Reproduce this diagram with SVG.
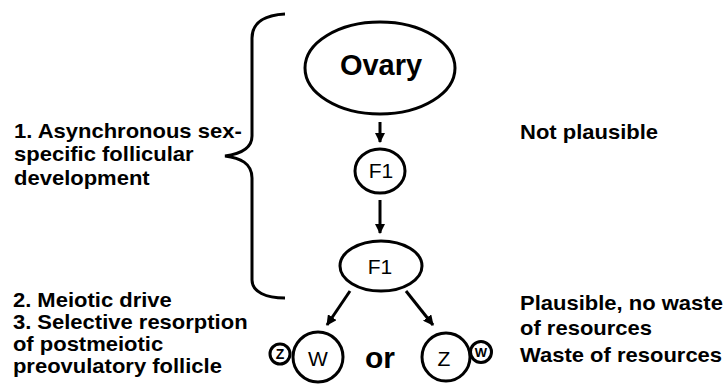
<svg xmlns="http://www.w3.org/2000/svg" width="728" height="388" viewBox="0 0 728 388">
<style>
.t{font-family:"Liberation Sans",Arial,sans-serif;font-weight:bold;font-size:20px;fill:#000}
.n{fill:#fff;stroke:#000;stroke-width:3}
.c{stroke:#000;stroke-width:3;fill:none}
.lbl{font-family:"Liberation Sans",Arial,sans-serif;fill:#000;text-anchor:middle}
</style>
<defs>
<marker id="ah" viewBox="0 0 10 10" refX="9" refY="5" markerWidth="3.5" markerHeight="3.5" orient="auto" markerUnits="strokeWidth">
<path d="M0,0 L10,5 L0,10 Z" fill="#000"/>
</marker>
</defs>
<rect width="728" height="388" fill="#fff"/>
<g id="brace">
<path class="c" stroke-width="3.5" d="M285,14 C266,15 252,22 252,38 L252,136 C252,149 240,154 225,156 C240,158 252,163 252,178 L252,280 C252,292 266,298 285,298"/>
</g>
<g id="connectors">
<line class="c" x1="380" y1="122" x2="380" y2="142" marker-end="url(#ah)"/>
<line class="c" x1="380" y1="200" x2="380" y2="233" marker-end="url(#ah)"/>
<line class="c" x1="350" y1="291" x2="327" y2="325" marker-end="url(#ah)"/>
<line class="c" x1="406" y1="291" x2="433" y2="325" marker-end="url(#ah)"/>
</g>
<g id="ovary">
<ellipse class="n" cx="380" cy="68" rx="75" ry="46"/>
<text class="lbl" x="381" y="75" font-size="29" font-weight="bold">Ovary</text>
</g>
<g id="f1a">
<ellipse class="n" cx="380" cy="171" rx="25" ry="22"/>
<text class="lbl" x="381" y="178" font-size="21">F1</text>
</g>
<g id="f1b">
<ellipse class="n" cx="381" cy="266" rx="41" ry="25"/>
<text class="lbl" x="380" y="274" font-size="21">F1</text>
</g>
<g id="w">
<circle class="n" cx="318" cy="357" r="25"/>
<text class="lbl" x="318" y="366" font-size="21">W</text>
<circle class="n" cx="280" cy="354" r="10" stroke-width="2.5"/>
<text class="lbl" x="280" y="359" font-size="14" font-weight="bold">Z</text>
</g>
<g id="or">
<text class="lbl" x="380" y="368" font-size="30" font-weight="bold">or</text>
</g>
<g id="z">
<circle class="n" cx="446" cy="357" r="24"/>
<text class="lbl" x="444" y="366" font-size="21">Z</text>
<circle class="n" cx="481" cy="352" r="10.5" stroke-width="2.5"/>
<text class="lbl" x="481" y="357" font-size="13" font-weight="bold">W</text>
</g>
<g id="left-text" transform="translate(14,0) scale(1.1,1)">
<text class="t" x="0" y="138">1. Asynchronous sex-</text>
<text class="t" x="0" y="161">specific follicular</text>
<text class="t" x="0" y="185">development</text>
<text class="t" x="-1" y="307">2. Meiotic drive</text>
<text class="t" x="-1" y="329">3. Selective resorption</text>
<text class="t" x="-1" y="351">of postmeiotic</text>
<text class="t" x="-1" y="373">preovulatory follicle</text>
</g>
<g id="right-text" transform="translate(520,0) scale(1.1,1)">
<text class="t" x="0" y="139">Not plausible</text>
<text class="t" x="0" y="310">Plausible, no waste</text>
<text class="t" x="0" y="335">of resources</text>
<text class="t" x="0" y="362">Waste of resources</text>
</g>
</svg>
